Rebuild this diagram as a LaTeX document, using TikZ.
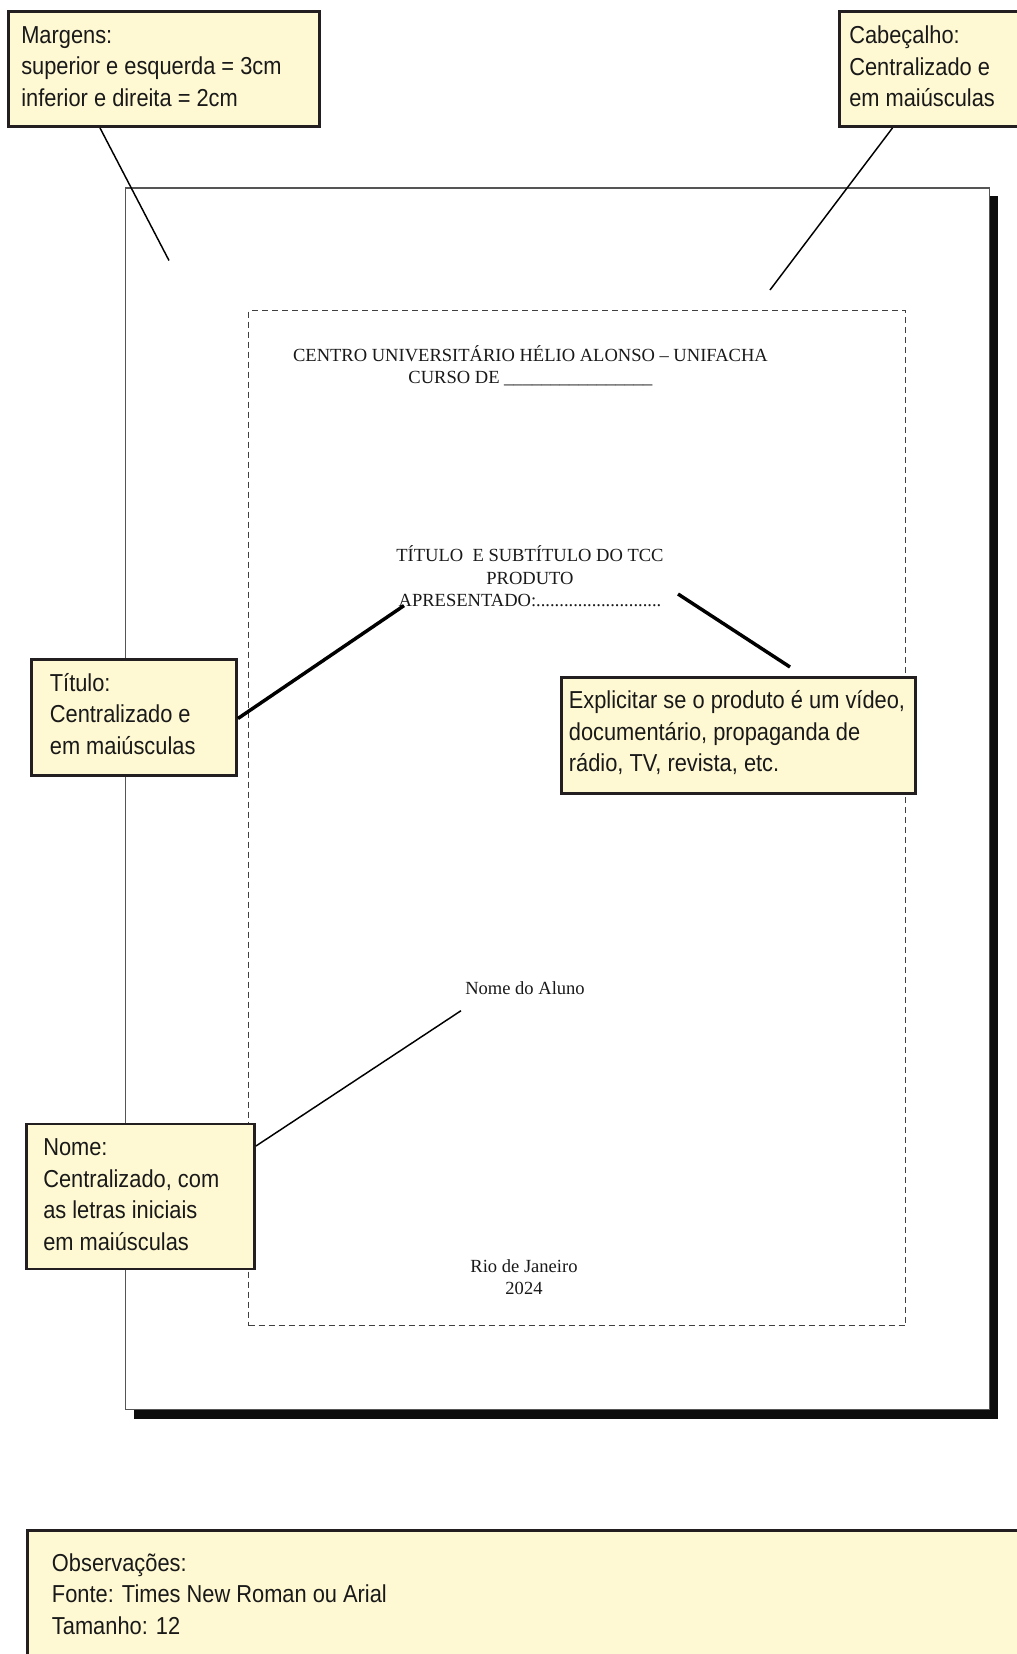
\documentclass[tikz,border=0pt]{standalone}
\usepackage{fontspec}
\setmainfont{Liberation Serif}
\newfontfamily\boxfont[FakeStretch=0.89]{Liberation Sans}
\definecolor{boxfill}{HTML}{FFF9D3}
\definecolor{boxline}{HTML}{231F20}
\definecolor{pageline}{HTML}{555555}
\tikzset{
  callout/.style={draw=boxline, line width=2.2, fill=boxfill, rectangle, inner sep=0pt, anchor=north west},
  ctext/.style={anchor=west, align=left, inner sep=0pt, font=\boxfont\fontsize{18.4pt}{23.7pt}\selectfont, text=black!90},
  stext/.style={anchor=center, align=center, inner sep=0pt, font=\fontsize{13.9pt}{16.7pt}\selectfont, text=black!90},
  thinline/.style={draw=black, line width=1.1},
  thickline/.style={draw=black, line width=2.6},
}
\begin{document}
\begin{tikzpicture}[x=0.75pt,y=-0.75pt]
\useasboundingbox (0,0) rectangle (1017,1654);
\clip (0,0) rectangle (1017,1654);
% page with shadow
\fill[black!95] (134,196) rectangle (998,1419);
\node[draw=pageline, line width=1.2, fill=white, rectangle, inner sep=0pt, anchor=north west,
      minimum width=864*0.75pt, minimum height=1221.5*0.75pt] (page) at (124.5,187) {};
% dashed text area
\node[draw=black!75, line width=1, dash pattern=on 4.5pt off 3pt, rectangle, inner sep=0pt, anchor=north west,
      minimum width=657*0.75pt, minimum height=1015*0.75pt] (area) at (248,310) {};
% page texts
\node[stext] (header) at (530.5,365.5) {CENTRO UNIVERSITÁRIO HÉLIO ALONSO – UNIFACHA\\CURSO DE \_\_\_\_\_\_\_\_\_\_\_\_\_\_\_\_};
\node[stext, font=\fontsize{13.9pt}{16.9pt}\selectfont] (title) at (530,576.5) {TÍTULO~ E SUBTÍTULO DO TCC\\PRODUTO\\APRESENTADO:...........................};
\node[stext] (aluno) at (525,988.5) {Nome do Aluno};
\node[stext] (local) at (524,1277.5) {Rio de Janeiro\\2024};
% callout boxes
\node[callout, minimum width=311*0.75pt, minimum height=115*0.75pt] (margens) at (7,10) {};
\node[ctext] (margenst) at (21,66.5) {Margens:\\superior e esquerda = 3cm\\inferior e direita = 2cm};
\node[callout, minimum width=200*0.75pt, minimum height=115*0.75pt] (cab) at (838,10) {};
\node[ctext] (cabt) at (849,66.5) {Cabeçalho:\\Centralizado e\\em maiúsculas};
\node[callout, minimum width=205*0.75pt, minimum height=116*0.75pt] (titulo) at (30,658) {};
\node[ctext] (titulot) at (49.6,714) {Título:\\Centralizado e\\em maiúsculas};
\node[callout, minimum width=354*0.75pt, minimum height=116*0.75pt] (expl) at (560,676) {};
\node[ctext] (explt) at (568.6,732.7) {Explicitar se o produto é um vídeo,\\documentário, propaganda de\\rádio, TV, revista, etc.};
\node[callout, minimum width=228*0.75pt, minimum height=145*0.75pt] (nome) at (25,1122.5) {};
\node[ctext] (nomet) at (43,1194.5) {Nome:\\Centralizado, com\\as letras iniciais\\em maiúsculas};
\node[callout, minimum width=1010*0.75pt, minimum height=150*0.75pt] (obs) at (26,1529) {};
\node[ctext] (obst) at (51.7,1594) {Observações:\\Fonte: Times New Roman ou Arial\\Tamanho: 12};
% connector ends
\coordinate (mA) at (100,125);
\coordinate (mB) at (169,260.5);
\coordinate (cA) at (892.5,125);
\coordinate (cB) at (770,290);
\coordinate (tA) at (234,718.5);
\coordinate (tB) at (404,605.6);
\coordinate (eA) at (678,594);
\coordinate (eB) at (790,667);
\coordinate (nA) at (253,1146);
\coordinate (nB) at (461,1010.7);
% connectors
\draw[thinline] (margens.south -| mA) -- (mB);
\draw[thinline] (cab.south -| cA) -- (cB);
\draw[thickline] (titulo.east |- tA) -- (tB);
\draw[thickline] (eA) -- (eB);
\draw[thinline] (nome.east |- nA) -- (nB);
\end{tikzpicture}
\end{document}
